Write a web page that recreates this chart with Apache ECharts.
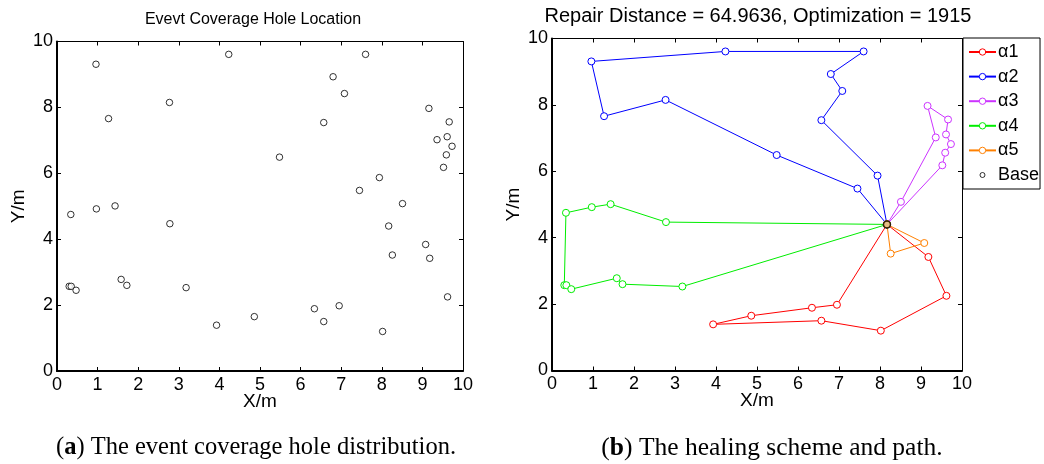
<!DOCTYPE html>
<html>
<head>
<meta charset="utf-8">
<script src="https://cdn.jsdelivr.net/npm/echarts@6/dist/echarts.min.js"></script>
<style>
html,body{margin:0;padding:0;background:#fff;}
#main{width:1044px;height:464px;}
</style>
</head>
<body>
<div id="main"></div>
<script>
// base station and hole locations
var base = [8.17, 4.40];
var alpha1 = [[9.18,3.42],[9.62,2.25],[8.02,1.20],[6.57,1.50],[3.93,1.39],[4.86,1.65],[6.34,1.89],[6.95,1.98]];
var alpha2 = [[7.94,5.87],[6.57,7.54],[7.08,8.42],[6.80,8.93],[7.60,9.61],[4.23,9.61],[0.96,9.31],[1.27,7.66],[2.77,8.15],[5.48,6.49],[7.45,5.48]];
var alpha3 = [[8.51,5.08],[9.36,7.02],[9.16,7.97],[9.66,7.56],[9.61,7.11],[9.73,6.82],[9.59,6.56],[9.52,6.18]];
var alpha4 = [[2.78,4.47],[1.43,5.01],[0.97,4.92],[0.34,4.75],[0.30,2.57],[0.35,2.57],[0.47,2.45],[1.58,2.78],[1.72,2.60],[3.18,2.53]];
var alpha5 = [[9.08,3.84],[8.26,3.52]];
var pathNames = ['α1','α2','α3','α4','α5'];
var pathColors = ['#ff0000','#0000ff','#cc33ff','#00ee00','#ff8000'];
var titleLeft = 'Evevt Coverage Hole Location';
var titleRight = 'Repair Distance = 64.9636, Optimization = 1915';

var paths = [alpha1, alpha2, alpha3, alpha4, alpha5];
var font = 'Liberation Sans, Arial, sans-serif';
var serif = 'Liberation Serif, DejaVu Serif, serif';

var myChart = echarts.init(document.getElementById('main'));

// all holes plus base for the left panel
var allPoints = [];
paths.forEach(function(p){ allPoints = allPoints.concat(p); });
allPoints.push(base);

function xAxes(gi){
	return [{
		gridIndex: gi, type: 'value', min: 0, max: 10, interval: 1, position: 'bottom',
		name: 'X/m', nameLocation: 'middle', nameGap: 21, nameMoveOverlap: false,
		nameTextStyle: { color: '#000', fontSize: 19, fontFamily: font },
		axisLine: { onZero: false, lineStyle: { color: '#000', width: 2 } },
		axisTick: { inside: true, length: 4, lineStyle: { color: '#000' } },
		axisLabel: { color: '#000', fontSize: 18, fontFamily: font, margin: 5 },
		splitLine: { show: false }
	},{
		gridIndex: gi, type: 'value', min: 0, max: 10, interval: 1, position: 'top',
		axisLine: { onZero: false, lineStyle: { color: '#000', width: 1 } },
		axisTick: { inside: true, length: 4, lineStyle: { color: '#000' } },
		axisLabel: { show: false },
		splitLine: { show: false }
	}];
}
function yAxes(gi){
	return [{
		gridIndex: gi, type: 'value', min: 0, max: 10, interval: 2, position: 'left',
		name: 'Y/m', nameLocation: 'middle', nameGap: 29, nameMoveOverlap: false,
		nameTextStyle: { color: '#000', fontSize: 19, fontFamily: font },
		axisLine: { onZero: false, lineStyle: { color: '#000', width: 2 } },
		axisTick: { inside: true, length: 4, lineStyle: { color: '#000' } },
		axisLabel: { color: '#000', fontSize: 18, fontFamily: font, margin: 4 },
		splitLine: { show: false }
	},{
		gridIndex: gi, type: 'value', min: 0, max: 10, interval: 2, position: 'right',
		axisLine: { onZero: false, lineStyle: { color: '#000', width: 1 } },
		axisTick: { inside: true, length: 4, lineStyle: { color: '#000' } },
		axisLabel: { show: false },
		splitLine: { show: false }
	}];
}

var series = [{
	name: 'holes', type: 'scatter', xAxisIndex: 0, yAxisIndex: 0,
	symbol: 'circle', symbolSize: 6.5,
	itemStyle: { color: '#fff', borderColor: '#000', borderWidth: 1 },
	data: allPoints
}];
paths.forEach(function(p, i){
	series.push({
		name: pathNames[i], type: 'line', xAxisIndex: 2, yAxisIndex: 2,
		symbol: 'circle', symbolSize: 7,
		color: pathColors[i],
		lineStyle: { width: 1, color: pathColors[i] },
		itemStyle: { color: '#fff', borderColor: pathColors[i], borderWidth: 1 },
		data: [base].concat(p).concat([base])
	});
});
series.push({
	name: 'Base', type: 'scatter', xAxisIndex: 2, yAxisIndex: 2,
	symbol: 'circle', symbolSize: 7, z: 5,
	itemStyle: { color: 'rgba(200,120,0,0.6)', borderColor: '#000', borderWidth: 1.5 },
	data: [base]
});

var legendData = pathNames.map(function(n){ return n; });
legendData.push({
	name: 'Base',
	icon: 'path://M0,0L0.01,0M8,8L8.01,8M6.5,4A2.5,2.5,0,1,1,1.5,4A2.5,2.5,0,1,1,6.5,4Z',
	itemStyle: { color: 'transparent', borderColor: '#000', borderWidth: 1 }
});

var option = {
	animation: false,
	backgroundColor: '#fff',
	title: [{
		text: titleLeft, left: 253, top: 12, textAlign: 'center', padding: 0,
		textStyle: { color: '#000', fontSize: 16, fontWeight: 'normal', fontFamily: font }
	},{
		text: titleRight, left: 758, top: 6, textAlign: 'center', padding: 0,
		textStyle: { color: '#000', fontSize: 20, fontWeight: 'normal', fontFamily: font }
	},{
		text: '({b|a}) The event coverage hole distribution.', left: 256, top: 435, textAlign: 'center', padding: 0,
		textStyle: { color: '#000', fontSize: 24.5, fontWeight: 'normal', fontFamily: serif,
			rich: { b: { fontSize: 24.5, fontWeight: 'bold', fontFamily: serif } } }
	},{
		text: '({b|b}) The healing scheme and path.', left: 772, top: 435, textAlign: 'center', padding: 0,
		textStyle: { color: '#000', fontSize: 25.5, fontWeight: 'normal', fontFamily: serif,
			rich: { b: { fontSize: 25.5, fontWeight: 'bold', fontFamily: serif } } }
	}],
	legend: {
		data: legendData,
		orient: 'vertical', left: 963, top: 38,
		backgroundColor: '#fff', borderColor: '#000', borderWidth: 1,
		padding: [5, 1, 5, 5],
		itemWidth: 27, itemHeight: 8, itemGap: 6.6,
		itemStyle: { borderWidth: 1 },
		textStyle: { color: '#000', fontSize: 18, fontFamily: font, padding: [0, 0, 0, -3] }
	},
	grid: [
		{ left: 57, top: 41.5, width: 406, height: 329.5 },
		{ left: 552, top: 38.5, width: 410, height: 332 }
	],
	xAxis: xAxes(0).concat(xAxes(1)),
	yAxis: yAxes(0).concat(yAxes(1)),
	series: series
};
myChart.setOption(option);
</script>
</body>
</html>
